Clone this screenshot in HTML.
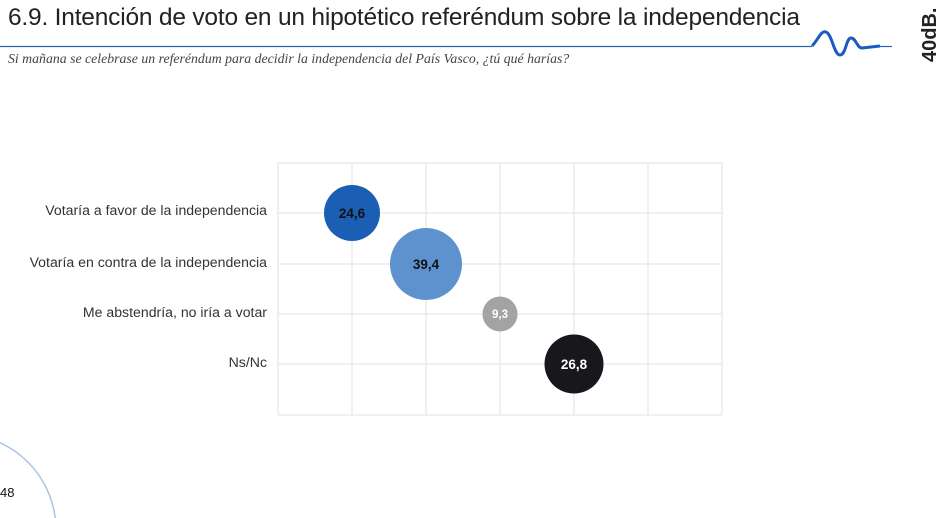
<!DOCTYPE html>
<html style="overflow:hidden"><head><meta charset="utf-8"><style>
html,body{margin:0;width:940px;height:518px;overflow:hidden}
body{background:#fff;position:relative;font-family:"Liberation Sans",sans-serif}
.t{position:absolute;left:8px;top:4px;font-size:24.5px;color:#222;letter-spacing:-0.2px;white-space:nowrap}
.s{position:absolute;left:8px;top:51px;font-family:"Liberation Serif",serif;font-style:italic;font-size:13.8px;color:#444;white-space:nowrap}
.l{position:absolute;right:673px;font-size:14.1px;color:#333;white-space:nowrap;line-height:17px}
</style></head><body>
<div class="t">6.9. Intención de voto en un hipotético referéndum sobre la independencia</div>
<div class="s">Si mañana se celebrase un referéndum para decidir la independencia del País Vasco, ¿tú qué harías?</div>
<svg width="940" height="518" style="position:absolute;left:0;top:0;overflow:hidden">
<line x1="0" y1="46.5" x2="812" y2="46.5" stroke="#2a64b8" stroke-width="1.2"/>
<path d="M812 46 C818 40,821 30,826 32 C832 34,834 55,840 55 C846 55,846 38,851 38 C856 38,857 48,862 48 L880 46" fill="none" stroke="#1c5bbf" stroke-width="3"/>
<line x1="880" y1="46.5" x2="892" y2="46.5" stroke="#2a64b8" stroke-width="1.2"/>
<text transform="translate(936,62) rotate(-90)" font-family="Liberation Sans" font-weight="bold" font-size="20" fill="#222">40dB.</text>
<circle cx="-40" cy="530" r="96" fill="none" stroke="#a9c4e8" stroke-width="1.5"/>
<circle cx="-22" cy="540" r="30" fill="none" stroke="#a9c4e8" stroke-width="1.5"/>
<text x="0" y="497" font-size="13" fill="#111" font-family="Liberation Sans">48</text>
<g stroke="#e2e2ea" stroke-width="1">
<line x1="278" y1="163" x2="722" y2="163"/><line x1="278" y1="213" x2="722" y2="213"/><line x1="278" y1="264" x2="722" y2="264"/><line x1="278" y1="314" x2="722" y2="314"/><line x1="278" y1="364" x2="722" y2="364"/><line x1="278" y1="415" x2="722" y2="415"/>
<line x1="278" y1="163" x2="278" y2="415"/><line x1="352" y1="163" x2="352" y2="415"/><line x1="426" y1="163" x2="426" y2="415"/><line x1="500" y1="163" x2="500" y2="415"/><line x1="574" y1="163" x2="574" y2="415"/><line x1="648" y1="163" x2="648" y2="415"/><line x1="722" y1="163" x2="722" y2="415"/>
</g>
<circle cx="352" cy="213" r="28" fill="#1a5fb4"/>
<circle cx="426" cy="264" r="36" fill="#5e92cf"/>
<circle cx="500" cy="314" r="17.5" fill="#a3a3a3"/>
<circle cx="574" cy="364" r="29.5" fill="#17171c"/>
<g font-family="Liberation Sans" font-weight="bold" text-anchor="middle" font-size="13.5">
<text x="352" y="218" fill="#111">24,6</text>
<text x="426" y="269" fill="#111">39,4</text>
<text x="500" y="318" fill="#fff" font-size="11.5">9,3</text>
<text x="574" y="369" fill="#fff">26,8</text>
</g>
</svg>
<div class="l" style="top:202px">Votaría a favor de la independencia</div>
<div class="l" style="top:254px">Votaría en contra de la independencia</div>
<div class="l" style="top:304px">Me abstendría, no iría a votar</div>
<div class="l" style="top:354px">Ns/Nc</div>
</body></html>
